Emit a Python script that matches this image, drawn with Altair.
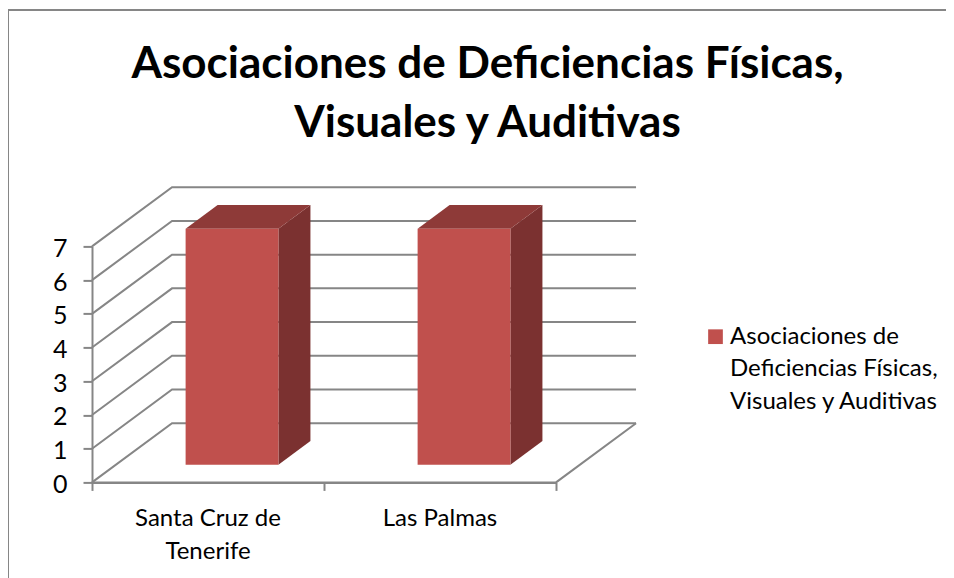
import altair as alt
import pandas as pd

title_lines = ["Asociaciones de Deficiencias Físicas,", "Visuales y Auditivas"]
categories = ["Santa Cruz de\nTenerife", "Las Palmas"]
values = [7, 7]
series_label = "Asociaciones de\nDeficiencias Físicas,\nVisuales y Auditivas"
y_ticks = [0, 1, 2, 3, 4, 5, 6, 7]
x_ticks = [0, 1, 2]

FONT = "Lato"
GREY = "#868686"
FRONT, TOP, SIDE = "#C0504D", "#8E3A38", "#7B3130"
KX, KY = 0.345, 1.755          # depth of the 3-D box in axis units
B0, B1 = 0.3, 0.7              # bar extent inside its band / depth
LW = 2

xs = alt.X("x:Q", scale=alt.Scale(domain=[0, 2], nice=False, zero=False), title=None,
           axis=alt.Axis(values=x_ticks, labels=False, grid=False, tickSize=8, tickColor=GREY,
                         tickWidth=LW, domainColor=GREY, domainWidth=LW, title=None))
ys = alt.Y("y:Q", scale=alt.Scale(domain=[0, 7], nice=False, zero=False), title=None,
           axis=alt.Axis(values=y_ticks, grid=False, tickSize=9, tickColor=GREY, tickWidth=LW,
                         domainColor=GREY, domainWidth=LW, labelFont=FONT, labelFontSize=25,
                         labelColor="#000000", labelPadding=16, labelOffset=2, title=None, format="d"))

grid_rows = []
for v in y_ticks:
    grid_rows += [
        dict(line=f"g{v}", o=0, x=0, y=v),
        dict(line=f"g{v}", o=1, x=KX, y=v + KY),
        dict(line=f"g{v}", o=2, x=2 + KX, y=v + KY),
    ]
grid_rows += [
    dict(line="floor", o=0, x=0, y=0),
    dict(line="floor", o=1, x=2, y=0),
    dict(line="floor", o=2, x=2 + KX, y=KY),
]
grid = alt.Chart(pd.DataFrame(grid_rows)).mark_line(color=GREY, strokeWidth=LW).encode(
    x=xs, y=ys, detail="line:N", order="o:Q",
)

front_rows, top_rows, side_rows = [], [], []
for i, v in enumerate(values):
    xl = i + B0 + KX * B0
    xr = i + B1 + KX * B0
    dx = KX * (B1 - B0)
    y0 = KY * B0
    y1 = v + KY * B0
    dy = KY * (B1 - B0)
    front_rows.append(dict(bar=i, x=xl, x2=xr, y=y0, y2=y1))
    side_rows += [dict(bar=i, x=xr, y=y0, y2=y1), dict(bar=i, x=xr + dx, y=y0 + dy, y2=y1 + dy)]
    top_rows += [
        dict(bar=i, x=xl, y=y1, y2=y1),
        dict(bar=i, x=xl + dx, y=y1, y2=y1 + dy),
        dict(bar=i, x=xr, y=y1, y2=y1 + dy),
        dict(bar=i, x=xr + dx, y=y1 + dy, y2=y1 + dy),
    ]

front = alt.Chart(pd.DataFrame(front_rows)).mark_rect(color=FRONT).encode(x=xs, x2="x2:Q", y=ys, y2="y2:Q")
side = alt.Chart(pd.DataFrame(side_rows)).mark_area(color=SIDE).encode(x=xs, y=ys, y2="y2:Q", detail="bar:N")
top = alt.Chart(pd.DataFrame(top_rows)).mark_area(color=TOP).encode(x=xs, y=ys, y2="y2:Q", detail="bar:N")

cat_df = pd.DataFrame(dict(x=[i + 0.5 for i in range(len(categories))], label=categories))
cat_text = alt.Chart(cat_df).mark_text(
    font=FONT, fontSize=24, color="#000000", lineBreak="\n", lineHeight=33, baseline="alphabetic", align="center",
).encode(x=xs, y=alt.value(279.5), text="label:N")

legend_df = pd.DataFrame(dict(label=[series_label]))
legend_sym = alt.Chart(legend_df).mark_square(color=FRONT, opacity=1, size=216).encode(
    x=alt.value(623.5), y=alt.value(90.3))
legend_text = alt.Chart(legend_df).mark_text(
    font=FONT, fontSize=24, color="#000000", lineBreak="\n", lineHeight=32.4, baseline="alphabetic", align="left",
).encode(x=alt.value(638), y=alt.value(97.6), text="label:N")

frame_df = pd.DataFrame(dict(k=["frame"]))
frame_top = alt.Chart(frame_df).mark_rule(color=GREY, strokeWidth=2).encode(
    x=alt.value(-84), x2=alt.value(854), y=alt.value(-236.4))
frame_left = alt.Chart(frame_df).mark_rule(color=GREY, strokeWidth=2).encode(
    x=alt.value(-84), y=alt.value(-237), y2=alt.value(332))

chart = alt.layer(
    frame_top, frame_left, grid, side, top, front, cat_text, legend_sym, legend_text,
).properties(
    width=464,
    height=236,
    background="#ffffff",
    padding={"left": 84, "top": 238.4, "right": 390, "bottom": 95.6},
    autosize=alt.AutoSizeParams(type="none"),
    title=alt.TitleParams(
        text=title_lines, font=FONT, fontSize=44, fontWeight="bold", color="#000000",
        anchor="middle", frame="group", dx=163.5, offset=0, dy=138, lineHeight=59,
    ),
).configure_view(strokeWidth=0, stroke="transparent")

chart.save("out.html", embed_options={"renderer": "svg", "actions": False})
